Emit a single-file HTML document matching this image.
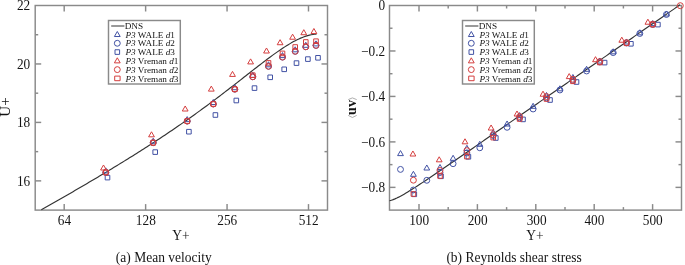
<!DOCTYPE html>
<html><head><meta charset="utf-8"><style>
html,body{margin:0;padding:0;background:#fff;}
svg{display:block;will-change:transform;}
text{font-family:"Liberation Serif",serif;fill:#141414;}
</style></head><body>
<svg width="685" height="265" viewBox="0 0 685 265">
<rect x="35.2" y="5.5" width="292.3" height="204.6" fill="none" stroke="#8a8a8a" stroke-width="1.45"/>
<rect x="389.5" y="5.5" width="292.0" height="204.6" fill="none" stroke="#8a8a8a" stroke-width="1.45"/>
<line x1="64.20" y1="210.1" x2="64.20" y2="204.1" stroke="#8a8a8a" stroke-width="1.45"/>
<line x1="64.20" y1="5.5" x2="64.20" y2="11.5" stroke="#8a8a8a" stroke-width="1.45"/>
<text transform="translate(64.40,224.80) scale(1,1.08)" text-anchor="middle" font-size="13.3" >64</text>
<line x1="145.63" y1="210.1" x2="145.63" y2="204.1" stroke="#8a8a8a" stroke-width="1.45"/>
<line x1="145.63" y1="5.5" x2="145.63" y2="11.5" stroke="#8a8a8a" stroke-width="1.45"/>
<text transform="translate(145.83,224.80) scale(1,1.08)" text-anchor="middle" font-size="13.3" >128</text>
<line x1="227.06" y1="210.1" x2="227.06" y2="204.1" stroke="#8a8a8a" stroke-width="1.45"/>
<line x1="227.06" y1="5.5" x2="227.06" y2="11.5" stroke="#8a8a8a" stroke-width="1.45"/>
<text transform="translate(227.26,224.80) scale(1,1.08)" text-anchor="middle" font-size="13.3" >256</text>
<line x1="308.49" y1="210.1" x2="308.49" y2="204.1" stroke="#8a8a8a" stroke-width="1.45"/>
<line x1="308.49" y1="5.5" x2="308.49" y2="11.5" stroke="#8a8a8a" stroke-width="1.45"/>
<text transform="translate(308.69,224.80) scale(1,1.08)" text-anchor="middle" font-size="13.3" >512</text>
<line x1="35.2" y1="180.87" x2="41.2" y2="180.87" stroke="#8a8a8a" stroke-width="1.45"/>
<line x1="327.5" y1="180.87" x2="321.5" y2="180.87" stroke="#8a8a8a" stroke-width="1.45"/>
<line x1="35.2" y1="151.64" x2="38.2" y2="151.64" stroke="#8a8a8a" stroke-width="1.45"/>
<line x1="327.5" y1="151.64" x2="324.5" y2="151.64" stroke="#8a8a8a" stroke-width="1.45"/>
<line x1="35.2" y1="122.41" x2="41.2" y2="122.41" stroke="#8a8a8a" stroke-width="1.45"/>
<line x1="327.5" y1="122.41" x2="321.5" y2="122.41" stroke="#8a8a8a" stroke-width="1.45"/>
<line x1="35.2" y1="93.19" x2="38.2" y2="93.19" stroke="#8a8a8a" stroke-width="1.45"/>
<line x1="327.5" y1="93.19" x2="324.5" y2="93.19" stroke="#8a8a8a" stroke-width="1.45"/>
<line x1="35.2" y1="63.96" x2="41.2" y2="63.96" stroke="#8a8a8a" stroke-width="1.45"/>
<line x1="327.5" y1="63.96" x2="321.5" y2="63.96" stroke="#8a8a8a" stroke-width="1.45"/>
<line x1="35.2" y1="34.73" x2="38.2" y2="34.73" stroke="#8a8a8a" stroke-width="1.45"/>
<line x1="327.5" y1="34.73" x2="324.5" y2="34.73" stroke="#8a8a8a" stroke-width="1.45"/>
<text transform="translate(30.20,186.17) scale(1,1.08)" text-anchor="end" font-size="13.3" >16</text>
<text transform="translate(30.20,127.21) scale(1,1.08)" text-anchor="end" font-size="13.3" >18</text>
<text transform="translate(30.20,69.26) scale(1,1.08)" text-anchor="end" font-size="13.3" >20</text>
<text transform="translate(30.20,9.90) scale(1,1.08)" text-anchor="end" font-size="13.3" >22</text>
<line x1="419.00" y1="210.1" x2="419.00" y2="204.1" stroke="#8a8a8a" stroke-width="1.45"/>
<line x1="419.00" y1="5.5" x2="419.00" y2="11.5" stroke="#8a8a8a" stroke-width="1.45"/>
<line x1="448.20" y1="210.1" x2="448.20" y2="207.1" stroke="#8a8a8a" stroke-width="1.45"/>
<line x1="448.20" y1="5.5" x2="448.20" y2="8.5" stroke="#8a8a8a" stroke-width="1.45"/>
<line x1="477.40" y1="210.1" x2="477.40" y2="204.1" stroke="#8a8a8a" stroke-width="1.45"/>
<line x1="477.40" y1="5.5" x2="477.40" y2="11.5" stroke="#8a8a8a" stroke-width="1.45"/>
<line x1="506.60" y1="210.1" x2="506.60" y2="207.1" stroke="#8a8a8a" stroke-width="1.45"/>
<line x1="506.60" y1="5.5" x2="506.60" y2="8.5" stroke="#8a8a8a" stroke-width="1.45"/>
<line x1="535.80" y1="210.1" x2="535.80" y2="204.1" stroke="#8a8a8a" stroke-width="1.45"/>
<line x1="535.80" y1="5.5" x2="535.80" y2="11.5" stroke="#8a8a8a" stroke-width="1.45"/>
<line x1="565.00" y1="210.1" x2="565.00" y2="207.1" stroke="#8a8a8a" stroke-width="1.45"/>
<line x1="565.00" y1="5.5" x2="565.00" y2="8.5" stroke="#8a8a8a" stroke-width="1.45"/>
<line x1="594.20" y1="210.1" x2="594.20" y2="204.1" stroke="#8a8a8a" stroke-width="1.45"/>
<line x1="594.20" y1="5.5" x2="594.20" y2="11.5" stroke="#8a8a8a" stroke-width="1.45"/>
<line x1="623.40" y1="210.1" x2="623.40" y2="207.1" stroke="#8a8a8a" stroke-width="1.45"/>
<line x1="623.40" y1="5.5" x2="623.40" y2="8.5" stroke="#8a8a8a" stroke-width="1.45"/>
<line x1="652.60" y1="210.1" x2="652.60" y2="204.1" stroke="#8a8a8a" stroke-width="1.45"/>
<line x1="652.60" y1="5.5" x2="652.60" y2="11.5" stroke="#8a8a8a" stroke-width="1.45"/>
<text transform="translate(419.20,224.80) scale(1,1.08)" text-anchor="middle" font-size="13.3" >100</text>
<text transform="translate(477.60,224.80) scale(1,1.08)" text-anchor="middle" font-size="13.3" >200</text>
<text transform="translate(536.70,224.80) scale(1,1.08)" text-anchor="middle" font-size="13.3" >300</text>
<text transform="translate(594.40,224.80) scale(1,1.08)" text-anchor="middle" font-size="13.3" >400</text>
<text transform="translate(652.80,224.80) scale(1,1.08)" text-anchor="middle" font-size="13.3" >500</text>
<line x1="389.5" y1="28.23" x2="392.5" y2="28.23" stroke="#8a8a8a" stroke-width="1.45"/>
<line x1="681.5" y1="28.23" x2="678.5" y2="28.23" stroke="#8a8a8a" stroke-width="1.45"/>
<line x1="389.5" y1="50.97" x2="395.5" y2="50.97" stroke="#8a8a8a" stroke-width="1.45"/>
<line x1="681.5" y1="50.97" x2="675.5" y2="50.97" stroke="#8a8a8a" stroke-width="1.45"/>
<line x1="389.5" y1="73.70" x2="392.5" y2="73.70" stroke="#8a8a8a" stroke-width="1.45"/>
<line x1="681.5" y1="73.70" x2="678.5" y2="73.70" stroke="#8a8a8a" stroke-width="1.45"/>
<line x1="389.5" y1="96.43" x2="395.5" y2="96.43" stroke="#8a8a8a" stroke-width="1.45"/>
<line x1="681.5" y1="96.43" x2="675.5" y2="96.43" stroke="#8a8a8a" stroke-width="1.45"/>
<line x1="389.5" y1="119.17" x2="392.5" y2="119.17" stroke="#8a8a8a" stroke-width="1.45"/>
<line x1="681.5" y1="119.17" x2="678.5" y2="119.17" stroke="#8a8a8a" stroke-width="1.45"/>
<line x1="389.5" y1="141.90" x2="395.5" y2="141.90" stroke="#8a8a8a" stroke-width="1.45"/>
<line x1="681.5" y1="141.90" x2="675.5" y2="141.90" stroke="#8a8a8a" stroke-width="1.45"/>
<line x1="389.5" y1="164.63" x2="392.5" y2="164.63" stroke="#8a8a8a" stroke-width="1.45"/>
<line x1="681.5" y1="164.63" x2="678.5" y2="164.63" stroke="#8a8a8a" stroke-width="1.45"/>
<line x1="389.5" y1="187.37" x2="395.5" y2="187.37" stroke="#8a8a8a" stroke-width="1.45"/>
<line x1="681.5" y1="187.37" x2="675.5" y2="187.37" stroke="#8a8a8a" stroke-width="1.45"/>
<text transform="translate(385.20,10.20) scale(1,1.08)" text-anchor="end" font-size="13.3" >0</text>
<text transform="translate(385.20,55.57) scale(1,1.08)" text-anchor="end" font-size="13.3" >−0.2</text>
<text transform="translate(385.20,101.03) scale(1,1.08)" text-anchor="end" font-size="13.3" >−0.4</text>
<text transform="translate(385.20,146.50) scale(1,1.08)" text-anchor="end" font-size="13.3" >−0.6</text>
<text transform="translate(385.20,191.97) scale(1,1.08)" text-anchor="end" font-size="13.3" >−0.8</text>
<polyline fill="none" stroke="#333" stroke-width="1.15" points="41.31,209.86 43.08,208.86 44.84,207.85 46.60,206.85 48.37,205.84 50.13,204.84 51.90,203.83 53.66,202.82 55.42,201.81 57.19,200.80 58.95,199.79 60.72,198.78 62.48,197.76 64.24,196.75 66.01,195.73 67.77,194.71 69.54,193.69 71.30,192.67 73.06,191.65 74.83,190.62 76.59,189.60 78.36,188.57 80.12,187.54 81.88,186.51 83.65,185.47 85.41,184.44 87.18,183.40 88.94,182.36 90.70,181.32 92.47,180.28 94.23,179.24 96.00,178.19 97.76,177.14 99.52,176.09 101.29,175.04 103.05,173.99 104.82,172.93 106.58,171.87 108.34,170.81 110.11,169.74 111.87,168.67 113.64,167.60 115.40,166.53 117.16,165.46 118.93,164.38 120.69,163.30 122.46,162.21 124.22,161.13 125.99,160.04 127.75,158.95 129.51,157.85 131.28,156.75 133.04,155.65 134.81,154.54 136.57,153.43 138.33,152.32 140.10,151.20 141.86,150.08 143.63,148.96 145.39,147.83 147.15,146.70 148.92,145.56 150.68,144.42 152.45,143.28 154.21,142.13 155.97,140.98 157.74,139.82 159.50,138.66 161.27,137.50 163.03,136.33 164.79,135.15 166.56,133.97 168.32,132.79 170.09,131.60 171.85,130.40 173.61,129.21 175.38,128.00 177.14,126.79 178.91,125.58 180.67,124.36 182.43,123.14 184.20,121.91 185.96,120.67 187.73,119.43 189.49,118.19 191.25,116.93 193.02,115.68 194.78,114.42 196.55,113.15 198.31,111.88 200.07,110.60 201.84,109.31 203.60,108.02 205.37,106.73 207.13,105.43 208.89,104.12 210.66,102.81 212.42,101.49 214.19,100.17 215.95,98.85 217.72,97.51 219.48,96.18 221.24,94.84 223.01,93.49 224.77,92.14 226.54,90.79 228.30,89.43 230.06,88.07 231.83,86.70 233.59,85.33 235.36,83.96 237.12,82.58 238.88,81.21 240.65,79.83 242.41,78.45 244.18,77.07 245.94,75.69 247.70,74.31 249.47,72.93 251.23,71.55 253.00,70.17 254.76,68.80 256.52,67.43 258.29,66.06 260.05,64.70 261.82,63.34 263.58,62.00 265.34,60.66 267.11,59.33 268.87,58.01 270.64,56.71 272.40,55.41 274.16,54.14 275.93,52.87 277.69,51.63 279.46,50.41 281.22,49.21 282.98,48.03 284.75,46.88 286.51,45.76 288.28,44.67 290.04,43.62 291.80,42.60 293.57,41.62 295.33,40.68 297.10,39.79 298.86,38.94 300.62,38.15 302.39,37.42 304.15,36.74 305.92,36.14 307.68,35.60 309.44,35.13 311.21,34.75 312.97,34.45 314.74,34.24 316.50,34.12"/>
<polyline fill="none" stroke="#333" stroke-width="1.15" points="389.50,200.74 391.33,200.24 393.15,199.61 394.98,198.87 396.81,198.04 398.64,197.14 400.46,196.18 402.29,195.18 404.12,194.14 405.95,193.07 407.77,191.97 409.60,190.85 411.43,189.71 413.25,188.56 415.08,187.39 416.91,186.21 418.74,185.02 420.56,183.82 422.39,182.61 424.22,181.40 426.05,180.18 427.87,178.96 429.70,177.73 431.53,176.50 433.36,175.26 435.18,174.02 437.01,172.78 438.84,171.54 440.66,170.29 442.49,169.04 444.32,167.79 446.15,166.54 447.97,165.29 449.80,164.03 451.63,162.78 453.46,161.52 455.28,160.27 457.11,159.01 458.94,157.75 460.76,156.49 462.59,155.23 464.42,153.97 466.25,152.71 468.07,151.45 469.90,150.19 471.73,148.93 473.56,147.66 475.38,146.40 477.21,145.14 479.04,143.87 480.86,142.61 482.69,141.35 484.52,140.08 486.35,138.82 488.17,137.56 490.00,136.29 491.83,135.03 493.66,133.76 495.48,132.50 497.31,131.23 499.14,129.97 500.97,128.70 502.79,127.44 504.62,126.17 506.45,124.91 508.27,123.64 510.10,122.38 511.93,121.12 513.76,119.85 515.58,118.59 517.41,117.32 519.24,116.06 521.07,114.79 522.89,113.53 524.72,112.26 526.55,111.00 528.37,109.73 530.20,108.47 532.03,107.20 533.86,105.94 535.68,104.67 537.51,103.41 539.34,102.14 541.17,100.88 542.99,99.61 544.82,98.35 546.65,97.08 548.47,95.82 550.30,94.55 552.13,93.29 553.96,92.02 555.78,90.76 557.61,89.49 559.44,88.23 561.27,86.96 563.09,85.70 564.92,84.43 566.75,83.17 568.57,81.90 570.40,80.64 572.23,79.38 574.06,78.11 575.88,76.85 577.71,75.58 579.54,74.32 581.37,73.05 583.19,71.79 585.02,70.52 586.85,69.26 588.68,68.00 590.50,66.73 592.33,65.47 594.16,64.20 595.98,62.94 597.81,61.67 599.64,60.41 601.47,59.15 603.29,57.88 605.12,56.62 606.95,55.35 608.78,54.09 610.60,52.83 612.43,51.56 614.26,50.30 616.08,49.03 617.91,47.77 619.74,46.51 621.57,45.24 623.39,43.98 625.22,42.71 627.05,41.45 628.88,40.19 630.70,38.92 632.53,37.66 634.36,36.39 636.18,35.13 638.01,33.87 639.84,32.60 641.67,31.34 643.49,30.08 645.32,28.81 647.15,27.55 648.98,26.28 650.80,25.02 652.63,23.76 654.46,22.49 656.29,21.23 658.11,19.97 659.94,18.70 661.77,17.44 663.59,16.18 665.42,14.91 667.25,13.65 669.08,12.39 670.90,11.12 672.73,9.86 674.56,8.60 676.39,7.33 678.21,6.07 680.04,4.80"/>
<path d="M105.80 167.87L108.70 172.92L102.90 172.92Z" fill="none" stroke="#4252a4" stroke-width="1.0" stroke-linejoin="round"/>
<circle cx="105.80" cy="172.40" r="2.95" fill="none" stroke="#4252a4" stroke-width="1.0"/>
<rect x="105.20" y="175.30" width="4.6" height="4.6" fill="none" stroke="#4252a4" stroke-width="1.0" stroke-linejoin="round"/>
<path d="M103.50 164.97L106.40 170.02L100.60 170.02Z" fill="none" stroke="#d43e3e" stroke-width="1.0" stroke-linejoin="round"/>
<circle cx="105.80" cy="172.40" r="2.95" fill="none" stroke="#d43e3e" stroke-width="1.0"/>
<rect x="103.50" y="170.10" width="4.6" height="4.6" fill="none" stroke="#d43e3e" stroke-width="1.0" stroke-linejoin="round"/>
<path d="M153.20 138.17L156.10 143.22L150.30 143.22Z" fill="none" stroke="#4252a4" stroke-width="1.0" stroke-linejoin="round"/>
<circle cx="153.20" cy="142.70" r="2.95" fill="none" stroke="#4252a4" stroke-width="1.0"/>
<rect x="152.90" y="149.80" width="4.6" height="4.6" fill="none" stroke="#4252a4" stroke-width="1.0" stroke-linejoin="round"/>
<path d="M151.50 131.77L154.40 136.82L148.60 136.82Z" fill="none" stroke="#d43e3e" stroke-width="1.0" stroke-linejoin="round"/>
<circle cx="153.20" cy="142.70" r="2.95" fill="none" stroke="#d43e3e" stroke-width="1.0"/>
<rect x="150.90" y="140.40" width="4.6" height="4.6" fill="none" stroke="#d43e3e" stroke-width="1.0" stroke-linejoin="round"/>
<path d="M187.20 116.57L190.10 121.62L184.30 121.62Z" fill="none" stroke="#4252a4" stroke-width="1.0" stroke-linejoin="round"/>
<circle cx="187.20" cy="121.10" r="2.95" fill="none" stroke="#4252a4" stroke-width="1.0"/>
<rect x="186.60" y="129.40" width="4.6" height="4.6" fill="none" stroke="#4252a4" stroke-width="1.0" stroke-linejoin="round"/>
<path d="M185.20 105.97L188.10 111.02L182.30 111.02Z" fill="none" stroke="#d43e3e" stroke-width="1.0" stroke-linejoin="round"/>
<circle cx="187.20" cy="121.10" r="2.95" fill="none" stroke="#d43e3e" stroke-width="1.0"/>
<rect x="184.90" y="118.80" width="4.6" height="4.6" fill="none" stroke="#d43e3e" stroke-width="1.0" stroke-linejoin="round"/>
<path d="M213.30 99.47L216.20 104.52L210.40 104.52Z" fill="none" stroke="#4252a4" stroke-width="1.0" stroke-linejoin="round"/>
<circle cx="213.30" cy="104.00" r="2.95" fill="none" stroke="#4252a4" stroke-width="1.0"/>
<rect x="213.10" y="112.70" width="4.6" height="4.6" fill="none" stroke="#4252a4" stroke-width="1.0" stroke-linejoin="round"/>
<path d="M211.30 86.07L214.20 91.12L208.40 91.12Z" fill="none" stroke="#d43e3e" stroke-width="1.0" stroke-linejoin="round"/>
<circle cx="213.30" cy="104.00" r="2.95" fill="none" stroke="#d43e3e" stroke-width="1.0"/>
<rect x="211.00" y="101.70" width="4.6" height="4.6" fill="none" stroke="#d43e3e" stroke-width="1.0" stroke-linejoin="round"/>
<path d="M234.80 84.67L237.70 89.72L231.90 89.72Z" fill="none" stroke="#4252a4" stroke-width="1.0" stroke-linejoin="round"/>
<circle cx="234.80" cy="89.20" r="2.95" fill="none" stroke="#4252a4" stroke-width="1.0"/>
<rect x="234.00" y="98.20" width="4.6" height="4.6" fill="none" stroke="#4252a4" stroke-width="1.0" stroke-linejoin="round"/>
<path d="M232.50 71.37L235.40 76.42L229.60 76.42Z" fill="none" stroke="#d43e3e" stroke-width="1.0" stroke-linejoin="round"/>
<circle cx="234.80" cy="89.20" r="2.95" fill="none" stroke="#d43e3e" stroke-width="1.0"/>
<rect x="232.50" y="86.90" width="4.6" height="4.6" fill="none" stroke="#d43e3e" stroke-width="1.0" stroke-linejoin="round"/>
<path d="M252.80 72.27L255.70 77.32L249.90 77.32Z" fill="none" stroke="#4252a4" stroke-width="1.0" stroke-linejoin="round"/>
<circle cx="252.80" cy="76.80" r="2.95" fill="none" stroke="#4252a4" stroke-width="1.0"/>
<rect x="252.20" y="85.80" width="4.6" height="4.6" fill="none" stroke="#4252a4" stroke-width="1.0" stroke-linejoin="round"/>
<path d="M250.60 58.87L253.50 63.92L247.70 63.92Z" fill="none" stroke="#d43e3e" stroke-width="1.0" stroke-linejoin="round"/>
<circle cx="252.80" cy="76.80" r="2.95" fill="none" stroke="#d43e3e" stroke-width="1.0"/>
<rect x="250.50" y="72.90" width="4.6" height="4.6" fill="none" stroke="#d43e3e" stroke-width="1.0" stroke-linejoin="round"/>
<path d="M268.50 61.77L271.40 66.82L265.60 66.82Z" fill="none" stroke="#4252a4" stroke-width="1.0" stroke-linejoin="round"/>
<circle cx="268.50" cy="66.30" r="2.95" fill="none" stroke="#4252a4" stroke-width="1.0"/>
<rect x="267.90" y="75.00" width="4.6" height="4.6" fill="none" stroke="#4252a4" stroke-width="1.0" stroke-linejoin="round"/>
<path d="M266.50 47.97L269.40 53.02L263.60 53.02Z" fill="none" stroke="#d43e3e" stroke-width="1.0" stroke-linejoin="round"/>
<circle cx="268.50" cy="66.30" r="2.95" fill="none" stroke="#d43e3e" stroke-width="1.0"/>
<rect x="266.20" y="60.60" width="4.6" height="4.6" fill="none" stroke="#d43e3e" stroke-width="1.0" stroke-linejoin="round"/>
<path d="M282.50 52.57L285.40 57.62L279.60 57.62Z" fill="none" stroke="#4252a4" stroke-width="1.0" stroke-linejoin="round"/>
<circle cx="282.50" cy="57.10" r="2.95" fill="none" stroke="#4252a4" stroke-width="1.0"/>
<rect x="281.90" y="67.00" width="4.6" height="4.6" fill="none" stroke="#4252a4" stroke-width="1.0" stroke-linejoin="round"/>
<path d="M280.10 39.67L283.00 44.72L277.20 44.72Z" fill="none" stroke="#d43e3e" stroke-width="1.0" stroke-linejoin="round"/>
<circle cx="282.50" cy="57.10" r="2.95" fill="none" stroke="#d43e3e" stroke-width="1.0"/>
<rect x="280.20" y="51.10" width="4.6" height="4.6" fill="none" stroke="#d43e3e" stroke-width="1.0" stroke-linejoin="round"/>
<path d="M295.20 46.77L298.10 51.82L292.30 51.82Z" fill="none" stroke="#4252a4" stroke-width="1.0" stroke-linejoin="round"/>
<circle cx="295.20" cy="51.30" r="2.95" fill="none" stroke="#4252a4" stroke-width="1.0"/>
<rect x="294.20" y="60.80" width="4.6" height="4.6" fill="none" stroke="#4252a4" stroke-width="1.0" stroke-linejoin="round"/>
<path d="M292.60 34.17L295.50 39.22L289.70 39.22Z" fill="none" stroke="#d43e3e" stroke-width="1.0" stroke-linejoin="round"/>
<circle cx="295.20" cy="51.30" r="2.95" fill="none" stroke="#d43e3e" stroke-width="1.0"/>
<rect x="292.90" y="44.70" width="4.6" height="4.6" fill="none" stroke="#d43e3e" stroke-width="1.0" stroke-linejoin="round"/>
<path d="M305.80 42.27L308.70 47.32L302.90 47.32Z" fill="none" stroke="#4252a4" stroke-width="1.0" stroke-linejoin="round"/>
<circle cx="305.80" cy="46.80" r="2.95" fill="none" stroke="#4252a4" stroke-width="1.0"/>
<rect x="305.60" y="56.80" width="4.6" height="4.6" fill="none" stroke="#4252a4" stroke-width="1.0" stroke-linejoin="round"/>
<path d="M303.80 29.67L306.70 34.72L300.90 34.72Z" fill="none" stroke="#d43e3e" stroke-width="1.0" stroke-linejoin="round"/>
<circle cx="305.80" cy="46.80" r="2.95" fill="none" stroke="#d43e3e" stroke-width="1.0"/>
<rect x="303.50" y="39.70" width="4.6" height="4.6" fill="none" stroke="#d43e3e" stroke-width="1.0" stroke-linejoin="round"/>
<path d="M316.00 40.87L318.90 45.92L313.10 45.92Z" fill="none" stroke="#4252a4" stroke-width="1.0" stroke-linejoin="round"/>
<circle cx="316.00" cy="45.40" r="2.95" fill="none" stroke="#4252a4" stroke-width="1.0"/>
<rect x="315.70" y="55.50" width="4.6" height="4.6" fill="none" stroke="#4252a4" stroke-width="1.0" stroke-linejoin="round"/>
<path d="M313.90 28.47L316.80 33.52L311.00 33.52Z" fill="none" stroke="#d43e3e" stroke-width="1.0" stroke-linejoin="round"/>
<circle cx="316.00" cy="45.40" r="2.95" fill="none" stroke="#d43e3e" stroke-width="1.0"/>
<rect x="313.70" y="38.90" width="4.6" height="4.6" fill="none" stroke="#d43e3e" stroke-width="1.0" stroke-linejoin="round"/>
<path d="M413.40 171.27L416.30 176.32L410.50 176.32Z" fill="none" stroke="#4252a4" stroke-width="1.0" stroke-linejoin="round"/>
<circle cx="413.40" cy="190.00" r="2.95" fill="none" stroke="#4252a4" stroke-width="1.0"/>
<rect x="412.00" y="192.00" width="4.6" height="4.6" fill="none" stroke="#4252a4" stroke-width="1.0" stroke-linejoin="round"/>
<path d="M412.90 150.97L415.80 156.02L410.00 156.02Z" fill="none" stroke="#d43e3e" stroke-width="1.0" stroke-linejoin="round"/>
<circle cx="413.40" cy="180.20" r="2.95" fill="none" stroke="#d43e3e" stroke-width="1.0"/>
<rect x="411.10" y="191.70" width="4.6" height="4.6" fill="none" stroke="#d43e3e" stroke-width="1.0" stroke-linejoin="round"/>
<path d="M440.00 164.47L442.90 169.52L437.10 169.52Z" fill="none" stroke="#4252a4" stroke-width="1.0" stroke-linejoin="round"/>
<circle cx="440.00" cy="172.50" r="2.95" fill="none" stroke="#4252a4" stroke-width="1.0"/>
<rect x="438.70" y="174.00" width="4.6" height="4.6" fill="none" stroke="#4252a4" stroke-width="1.0" stroke-linejoin="round"/>
<path d="M439.20 156.77L442.10 161.82L436.30 161.82Z" fill="none" stroke="#d43e3e" stroke-width="1.0" stroke-linejoin="round"/>
<circle cx="440.00" cy="170.50" r="2.95" fill="none" stroke="#d43e3e" stroke-width="1.0"/>
<rect x="437.70" y="173.70" width="4.6" height="4.6" fill="none" stroke="#d43e3e" stroke-width="1.0" stroke-linejoin="round"/>
<path d="M466.90 145.27L469.80 150.32L464.00 150.32Z" fill="none" stroke="#4252a4" stroke-width="1.0" stroke-linejoin="round"/>
<circle cx="466.90" cy="153.00" r="2.95" fill="none" stroke="#4252a4" stroke-width="1.0"/>
<rect x="466.10" y="154.50" width="4.6" height="4.6" fill="none" stroke="#4252a4" stroke-width="1.0" stroke-linejoin="round"/>
<path d="M465.00 138.77L467.90 143.82L462.10 143.82Z" fill="none" stroke="#d43e3e" stroke-width="1.0" stroke-linejoin="round"/>
<circle cx="466.90" cy="150.60" r="2.95" fill="none" stroke="#d43e3e" stroke-width="1.0"/>
<rect x="464.60" y="154.30" width="4.6" height="4.6" fill="none" stroke="#d43e3e" stroke-width="1.0" stroke-linejoin="round"/>
<path d="M493.20 129.57L496.10 134.62L490.30 134.62Z" fill="none" stroke="#4252a4" stroke-width="1.0" stroke-linejoin="round"/>
<circle cx="493.20" cy="135.50" r="2.95" fill="none" stroke="#4252a4" stroke-width="1.0"/>
<rect x="493.50" y="135.70" width="4.6" height="4.6" fill="none" stroke="#4252a4" stroke-width="1.0" stroke-linejoin="round"/>
<path d="M491.10 124.97L494.00 130.02L488.20 130.02Z" fill="none" stroke="#d43e3e" stroke-width="1.0" stroke-linejoin="round"/>
<circle cx="493.20" cy="134.60" r="2.95" fill="none" stroke="#d43e3e" stroke-width="1.0"/>
<rect x="490.90" y="135.30" width="4.6" height="4.6" fill="none" stroke="#d43e3e" stroke-width="1.0" stroke-linejoin="round"/>
<path d="M519.60 112.57L522.50 117.62L516.70 117.62Z" fill="none" stroke="#4252a4" stroke-width="1.0" stroke-linejoin="round"/>
<circle cx="519.60" cy="118.00" r="2.95" fill="none" stroke="#4252a4" stroke-width="1.0"/>
<rect x="520.70" y="117.10" width="4.6" height="4.6" fill="none" stroke="#4252a4" stroke-width="1.0" stroke-linejoin="round"/>
<path d="M517.00 110.97L519.90 116.02L514.10 116.02Z" fill="none" stroke="#d43e3e" stroke-width="1.0" stroke-linejoin="round"/>
<circle cx="519.60" cy="116.60" r="2.95" fill="none" stroke="#d43e3e" stroke-width="1.0"/>
<rect x="517.30" y="116.70" width="4.6" height="4.6" fill="none" stroke="#d43e3e" stroke-width="1.0" stroke-linejoin="round"/>
<path d="M546.50 92.47L549.40 97.52L543.60 97.52Z" fill="none" stroke="#4252a4" stroke-width="1.0" stroke-linejoin="round"/>
<circle cx="546.50" cy="98.00" r="2.95" fill="none" stroke="#4252a4" stroke-width="1.0"/>
<rect x="547.70" y="97.70" width="4.6" height="4.6" fill="none" stroke="#4252a4" stroke-width="1.0" stroke-linejoin="round"/>
<path d="M543.00 91.17L545.90 96.22L540.10 96.22Z" fill="none" stroke="#d43e3e" stroke-width="1.0" stroke-linejoin="round"/>
<circle cx="546.50" cy="96.60" r="2.95" fill="none" stroke="#d43e3e" stroke-width="1.0"/>
<rect x="544.20" y="96.70" width="4.6" height="4.6" fill="none" stroke="#d43e3e" stroke-width="1.0" stroke-linejoin="round"/>
<path d="M572.90 74.47L575.80 79.52L570.00 79.52Z" fill="none" stroke="#4252a4" stroke-width="1.0" stroke-linejoin="round"/>
<circle cx="572.90" cy="80.30" r="2.95" fill="none" stroke="#4252a4" stroke-width="1.0"/>
<rect x="574.20" y="79.70" width="4.6" height="4.6" fill="none" stroke="#4252a4" stroke-width="1.0" stroke-linejoin="round"/>
<path d="M569.20 73.57L572.10 78.62L566.30 78.62Z" fill="none" stroke="#d43e3e" stroke-width="1.0" stroke-linejoin="round"/>
<circle cx="572.90" cy="79.30" r="2.95" fill="none" stroke="#d43e3e" stroke-width="1.0"/>
<rect x="570.60" y="79.00" width="4.6" height="4.6" fill="none" stroke="#d43e3e" stroke-width="1.0" stroke-linejoin="round"/>
<path d="M599.80 57.97L602.70 63.02L596.90 63.02Z" fill="none" stroke="#4252a4" stroke-width="1.0" stroke-linejoin="round"/>
<circle cx="599.80" cy="62.00" r="2.95" fill="none" stroke="#4252a4" stroke-width="1.0"/>
<rect x="602.30" y="60.30" width="4.6" height="4.6" fill="none" stroke="#4252a4" stroke-width="1.0" stroke-linejoin="round"/>
<path d="M595.50 56.67L598.40 61.72L592.60 61.72Z" fill="none" stroke="#d43e3e" stroke-width="1.0" stroke-linejoin="round"/>
<circle cx="599.80" cy="61.50" r="2.95" fill="none" stroke="#d43e3e" stroke-width="1.0"/>
<rect x="597.50" y="60.20" width="4.6" height="4.6" fill="none" stroke="#d43e3e" stroke-width="1.0" stroke-linejoin="round"/>
<path d="M626.50 38.97L629.40 44.02L623.60 44.02Z" fill="none" stroke="#4252a4" stroke-width="1.0" stroke-linejoin="round"/>
<circle cx="626.50" cy="43.00" r="2.95" fill="none" stroke="#4252a4" stroke-width="1.0"/>
<rect x="628.60" y="41.50" width="4.6" height="4.6" fill="none" stroke="#4252a4" stroke-width="1.0" stroke-linejoin="round"/>
<path d="M621.80 37.17L624.70 42.22L618.90 42.22Z" fill="none" stroke="#d43e3e" stroke-width="1.0" stroke-linejoin="round"/>
<circle cx="626.50" cy="42.60" r="2.95" fill="none" stroke="#d43e3e" stroke-width="1.0"/>
<rect x="624.20" y="41.00" width="4.6" height="4.6" fill="none" stroke="#d43e3e" stroke-width="1.0" stroke-linejoin="round"/>
<path d="M652.70 20.57L655.60 25.62L649.80 25.62Z" fill="none" stroke="#4252a4" stroke-width="1.0" stroke-linejoin="round"/>
<circle cx="652.70" cy="24.50" r="2.95" fill="none" stroke="#4252a4" stroke-width="1.0"/>
<rect x="655.60" y="22.30" width="4.6" height="4.6" fill="none" stroke="#4252a4" stroke-width="1.0" stroke-linejoin="round"/>
<path d="M647.90 19.17L650.80 24.22L645.00 24.22Z" fill="none" stroke="#d43e3e" stroke-width="1.0" stroke-linejoin="round"/>
<circle cx="652.70" cy="24.10" r="2.95" fill="none" stroke="#d43e3e" stroke-width="1.0"/>
<rect x="650.40" y="22.30" width="4.6" height="4.6" fill="none" stroke="#d43e3e" stroke-width="1.0" stroke-linejoin="round"/>
<path d="M400.50 150.57L403.40 155.62L397.60 155.62Z" fill="none" stroke="#4252a4" stroke-width="1.0" stroke-linejoin="round"/>
<circle cx="400.50" cy="169.40" r="2.95" fill="none" stroke="#4252a4" stroke-width="1.0"/>
<path d="M426.80 164.97L429.70 170.02L423.90 170.02Z" fill="none" stroke="#4252a4" stroke-width="1.0" stroke-linejoin="round"/>
<circle cx="426.80" cy="180.30" r="2.95" fill="none" stroke="#4252a4" stroke-width="1.0"/>
<path d="M453.10 155.27L456.00 160.32L450.20 160.32Z" fill="none" stroke="#4252a4" stroke-width="1.0" stroke-linejoin="round"/>
<circle cx="453.10" cy="163.70" r="2.95" fill="none" stroke="#4252a4" stroke-width="1.0"/>
<path d="M479.80 141.27L482.70 146.32L476.90 146.32Z" fill="none" stroke="#4252a4" stroke-width="1.0" stroke-linejoin="round"/>
<circle cx="479.80" cy="147.80" r="2.95" fill="none" stroke="#4252a4" stroke-width="1.0"/>
<path d="M507.10 120.97L510.00 126.02L504.20 126.02Z" fill="none" stroke="#4252a4" stroke-width="1.0" stroke-linejoin="round"/>
<circle cx="507.10" cy="127.30" r="2.95" fill="none" stroke="#4252a4" stroke-width="1.0"/>
<path d="M533.10 103.27L536.00 108.32L530.20 108.32Z" fill="none" stroke="#4252a4" stroke-width="1.0" stroke-linejoin="round"/>
<circle cx="533.10" cy="109.00" r="2.95" fill="none" stroke="#4252a4" stroke-width="1.0"/>
<path d="M559.90 85.77L562.80 90.82L557.00 90.82Z" fill="none" stroke="#4252a4" stroke-width="1.0" stroke-linejoin="round"/>
<circle cx="559.90" cy="90.00" r="2.95" fill="none" stroke="#4252a4" stroke-width="1.0"/>
<path d="M586.60 66.27L589.50 71.32L583.70 71.32Z" fill="none" stroke="#4252a4" stroke-width="1.0" stroke-linejoin="round"/>
<circle cx="586.60" cy="71.00" r="2.95" fill="none" stroke="#4252a4" stroke-width="1.0"/>
<path d="M613.20 48.77L616.10 53.82L610.30 53.82Z" fill="none" stroke="#4252a4" stroke-width="1.0" stroke-linejoin="round"/>
<circle cx="613.20" cy="52.60" r="2.95" fill="none" stroke="#4252a4" stroke-width="1.0"/>
<path d="M639.80 29.77L642.70 34.82L636.90 34.82Z" fill="none" stroke="#4252a4" stroke-width="1.0" stroke-linejoin="round"/>
<circle cx="639.80" cy="33.50" r="2.95" fill="none" stroke="#4252a4" stroke-width="1.0"/>
<path d="M666.40 10.97L669.30 16.02L663.50 16.02Z" fill="none" stroke="#4252a4" stroke-width="1.0" stroke-linejoin="round"/>
<circle cx="666.40" cy="14.50" r="2.95" fill="none" stroke="#4252a4" stroke-width="1.0"/>
<circle cx="680.30" cy="5.70" r="3.0" fill="none" stroke="#d43e3e" stroke-width="1.0"/>
<rect x="108.5" y="20.5" width="71.8" height="63.5" fill="#fff" stroke="#8a8a8a" stroke-width="1.45"/>
<line x1="111.2" y1="26.0" x2="124.4" y2="26.0" stroke="#555" stroke-width="1.2"/>
<text x="124.7" y="29.0" font-size="9.2">DNS</text>
<path d="M117.30 31.47L120.20 36.52L114.40 36.52Z" fill="none" stroke="#4252a4" stroke-width="1.0" stroke-linejoin="round"/>
<text x="125.5" y="37.70" font-size="9.2"><tspan font-style="italic">P3</tspan> WALE <tspan font-style="italic">d</tspan>1</text>
<circle cx="117.30" cy="43.28" r="2.95" fill="none" stroke="#4252a4" stroke-width="1.0"/>
<text x="125.5" y="46.48" font-size="9.2"><tspan font-style="italic">P3</tspan> WALE <tspan font-style="italic">d</tspan>2</text>
<rect x="115.00" y="49.76" width="4.6" height="4.6" fill="none" stroke="#4252a4" stroke-width="1.0" stroke-linejoin="round"/>
<text x="125.5" y="55.26" font-size="9.2"><tspan font-style="italic">P3</tspan> WALE <tspan font-style="italic">d</tspan>3</text>
<path d="M117.30 57.81L120.20 62.86L114.40 62.86Z" fill="none" stroke="#d43e3e" stroke-width="1.0" stroke-linejoin="round"/>
<text x="125.5" y="64.04" font-size="9.2"><tspan font-style="italic">P3</tspan> Vreman <tspan font-style="italic">d</tspan>1</text>
<circle cx="117.30" cy="69.62" r="2.95" fill="none" stroke="#d43e3e" stroke-width="1.0"/>
<text x="125.5" y="72.82" font-size="9.2"><tspan font-style="italic">P3</tspan> Vreman <tspan font-style="italic">d</tspan>2</text>
<rect x="114.70" y="76.10" width="5.4" height="4.6" fill="none" stroke="#d43e3e" stroke-width="1.0" stroke-linejoin="round"/>
<text x="125.5" y="81.60" font-size="9.2"><tspan font-style="italic">P3</tspan> Vreman <tspan font-style="italic">d</tspan>3</text>
<rect x="462.5" y="20.5" width="71.8" height="63.5" fill="#fff" stroke="#8a8a8a" stroke-width="1.45"/>
<line x1="465.2" y1="26.0" x2="478.4" y2="26.0" stroke="#555" stroke-width="1.2"/>
<text x="478.7" y="29.0" font-size="9.2">DNS</text>
<path d="M471.30 31.47L474.20 36.52L468.40 36.52Z" fill="none" stroke="#4252a4" stroke-width="1.0" stroke-linejoin="round"/>
<text x="479.5" y="37.70" font-size="9.2"><tspan font-style="italic">P3</tspan> WALE <tspan font-style="italic">d</tspan>1</text>
<circle cx="471.30" cy="43.28" r="2.95" fill="none" stroke="#4252a4" stroke-width="1.0"/>
<text x="479.5" y="46.48" font-size="9.2"><tspan font-style="italic">P3</tspan> WALE <tspan font-style="italic">d</tspan>2</text>
<rect x="469.00" y="49.76" width="4.6" height="4.6" fill="none" stroke="#4252a4" stroke-width="1.0" stroke-linejoin="round"/>
<text x="479.5" y="55.26" font-size="9.2"><tspan font-style="italic">P3</tspan> WALE <tspan font-style="italic">d</tspan>3</text>
<path d="M471.30 57.81L474.20 62.86L468.40 62.86Z" fill="none" stroke="#d43e3e" stroke-width="1.0" stroke-linejoin="round"/>
<text x="479.5" y="64.04" font-size="9.2"><tspan font-style="italic">P3</tspan> Vreman <tspan font-style="italic">d</tspan>1</text>
<circle cx="471.30" cy="69.62" r="2.95" fill="none" stroke="#d43e3e" stroke-width="1.0"/>
<text x="479.5" y="72.82" font-size="9.2"><tspan font-style="italic">P3</tspan> Vreman <tspan font-style="italic">d</tspan>2</text>
<rect x="468.70" y="76.10" width="5.4" height="4.6" fill="none" stroke="#d43e3e" stroke-width="1.0" stroke-linejoin="round"/>
<text x="479.5" y="81.60" font-size="9.2"><tspan font-style="italic">P3</tspan> Vreman <tspan font-style="italic">d</tspan>3</text>
<text transform="translate(181.00,239.80) scale(1,1.04)" text-anchor="middle" font-size="13.5" >Y+</text>
<text transform="translate(535.00,239.80) scale(1,1.04)" text-anchor="middle" font-size="13.5" >Y+</text>
<text transform="translate(163.80,262.00) scale(1,1.02)" text-anchor="middle" font-size="13.5" >(a) Mean velocity</text>
<text transform="translate(514.00,262.00) scale(1,1.02)" text-anchor="middle" font-size="13.5" >(b) Reynolds shear stress</text>
<text transform="translate(10.2,107.0) rotate(-90)" text-anchor="middle" font-size="15">U+</text>
<text transform="translate(355.9,107.5) rotate(-90)" text-anchor="middle" font-size="14.2" font-weight="bold">uv</text>
<path d="M348.2 115.4L352.4 117.5L356.7 115.4M348.2 99.6L352.4 97.9L356.7 99.6" fill="none" stroke="#999" stroke-width="0.8"/>
</svg>
</body></html>
